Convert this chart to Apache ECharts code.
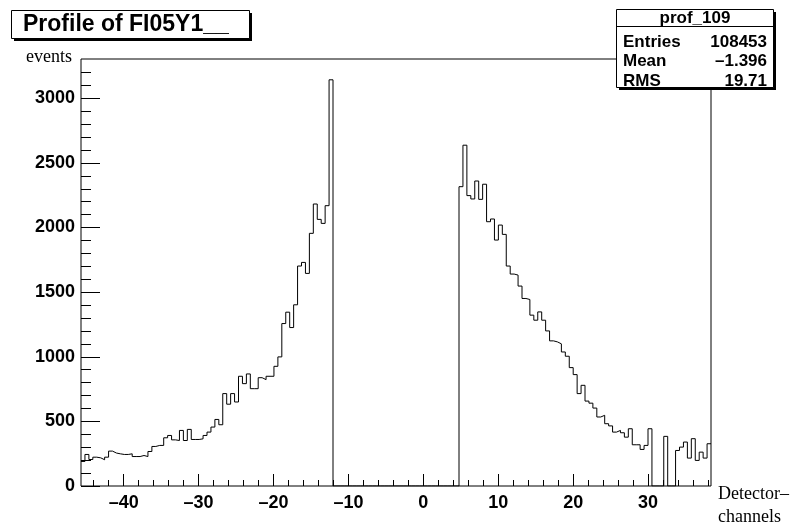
<!DOCTYPE html>
<html>
<head>
<meta charset="utf-8">
<script src="https://cdn.jsdelivr.net/npm/echarts@6/dist/echarts.min.js"></script>
<style>
  html, body { margin: 0; padding: 0; background: #fff; }
  #chart { width: 790px; height: 524px; }
</style>
</head>
<body>
<div id="chart"></div>
<script>
// Histogram binning along the detector channel axis
const xMin = -45.7;
const xMax = 38.4;
const nBins = 160;

// Bin contents (events per bin), left to right
const countsLeft = [
  190, 244, 205, 223, 218, 203, 223, 270, 255, 249,
  244, 244, 249, 228, 228, 236, 228, 267, 306, 314,
  314, 373, 391, 357, 352, 430, 352, 438, 360, 360,
  365, 391, 417, 456, 515, 474, 715, 633, 715, 650,
  849, 792, 867, 753, 753, 838, 823, 849, 849, 926,
  999, 1257, 1345, 1226, 1402, 1702, 1730, 1645, 1955, 2182,
  2063, 2032, 2169, 3143
];
const countsGap = [
  0, 0, 0, 0, 0, 0, 0, 0, 0, 0,
  0, 0, 0, 0, 0, 0, 0, 0, 0, 0,
  0, 0, 0, 0, 0, 0, 0, 0, 0, 0,
  0, 0
];
const countsRight = [
  2316, 2637, 2247, 2221, 2360, 2218, 2335, 2045, 2066, 1903,
  2019, 1947, 1702, 1640, 1632, 1547, 1451, 1443, 1322, 1283,
  1347, 1283, 1200, 1123, 1115, 1100, 1037, 1004, 916, 862,
  715, 779, 657, 641, 603, 534, 547, 482, 465, 417,
  430, 412, 378, 443, 319, 319, 283, 314, 443, 0,
  0, 0, 384, 0, 0, 275, 301, 340, 216, 366,
  198, 262, 216, 327
];

// Axis ticks
const xTickLabels = [-40, -30, -20, -10, 0, 10, 20, 30];
const xMinorTicks = [-44, -42, -38, -36, -34, -32, -28, -26, -24, -22, -18, -16, -14, -12,
  -8, -6, -4, -2, 2, 4, 6, 8, 12, 14, 16, 18, 22, 24, 26, 28, 32, 34, 36, 38];
const yMax = 3304;
const yTickLabels = [0, 500, 1000, 1500, 2000, 2500, 3000];
const yMinorTicks = [100, 200, 300, 400, 600, 700, 800, 900, 1100, 1200, 1300, 1400,
  1600, 1700, 1800, 1900, 2100, 2200, 2300, 2400, 2600, 2700, 2800, 2900, 3100, 3200];

// Texts
const histTitle = 'Profile of FI05Y1__';
const statsName = 'prof_109';
const statsRows = [['Entries', '108453'], ['Mean', '\u20131.396'], ['RMS', '19.71']];
const yTitle = 'events';
const xTitleLines = ['Detector\u2013', 'channels'];

// Build the outline of the histogram as a stepped line through bin edges
const counts = countsLeft.concat(countsGap, countsRight);
const binWidth = (xMax - xMin) / nBins;
const outline = [];
counts.forEach(function (v, i) {
  const lo = xMin + i * binWidth;
  const hi = xMin + (i + 1) * binWidth;
  outline.push([lo, v], [hi, v]);
});

const sans = '"Liberation Sans", Arial, Helvetica, sans-serif';
const serif = '"Liberation Serif", "Times New Roman", serif';
const tickFont = { fontFamily: sans, fontWeight: 'bold', fontSize: 18, color: '#000' };
const dash = function (v) { return String(v).replace('-', '\u2013'); };

const chart = echarts.init(document.getElementById('chart'), null, { renderer: 'canvas' });

const statsLeft = 616.5, statsTop = 9.5, statsW = 157, statsH = 78;
const titleLeft = 11.5, titleTop = 10.5, titleW = 238, titleH = 28;

const graphics = [
  // title box with drop shadow
  { type: 'rect', z: 100, shape: { x: titleLeft + 2.5, y: titleTop + 2.5, width: titleW, height: titleH },
    style: { fill: '#000' } },
  { type: 'rect', z: 101, shape: { x: titleLeft, y: titleTop, width: titleW, height: titleH },
    style: { fill: '#fff', stroke: '#000', lineWidth: 1 } },
  { type: 'text', z: 102, x: 23, y: 25,
    style: { text: histTitle, font: 'bold 23px ' + sans, fill: '#000', align: 'left', verticalAlign: 'middle' } },
  // statistics box with drop shadow
  { type: 'rect', z: 100, shape: { x: statsLeft + 2.5, y: statsTop + 2.5, width: statsW, height: statsH },
    style: { fill: '#000' } },
  { type: 'rect', z: 101, shape: { x: statsLeft, y: statsTop, width: statsW, height: statsH },
    style: { fill: '#fff', stroke: '#000', lineWidth: 1 } },
  { type: 'line', z: 102, shape: { x1: statsLeft, y1: 26.5, x2: statsLeft + statsW, y2: 26.5 },
    style: { stroke: '#000', lineWidth: 1 } },
  { type: 'text', z: 102, x: 695, y: 18,
    style: { text: statsName, font: 'bold 17px ' + sans, fill: '#000', align: 'center', verticalAlign: 'middle' } },
  // axis titles
  { type: 'text', z: 102, x: 26, y: 57,
    style: { text: yTitle, font: '18px ' + serif, fill: '#000', align: 'left', verticalAlign: 'middle' } },
  { type: 'text', z: 102, x: 718, y: 494,
    style: { text: xTitleLines[0], font: '18px ' + serif, fill: '#000', align: 'left', verticalAlign: 'middle' } },
  { type: 'text', z: 102, x: 718, y: 517,
    style: { text: xTitleLines[1], font: '18px ' + serif, fill: '#000', align: 'left', verticalAlign: 'middle' } }
];
statsRows.forEach(function (row, k) {
  const yc = 42 + k * 19.5;
  graphics.push(
    { type: 'text', z: 102, x: 623, y: yc,
      style: { text: row[0], font: 'bold 17px ' + sans, fill: '#000', align: 'left', verticalAlign: 'middle' } },
    { type: 'text', z: 102, x: 767, y: yc,
      style: { text: row[1], font: 'bold 17px ' + sans, fill: '#000', align: 'right', verticalAlign: 'middle' } }
  );
});

chart.setOption({
  animation: false,
  backgroundColor: '#fff',
  grid: { left: 81, top: 59, right: 79, bottom: 38, show: true, borderColor: '#000', borderWidth: 1,
    backgroundColor: 'transparent' },
  xAxis: [
    { type: 'value', min: xMin, max: xMax, position: 'bottom',
      axisLine: { show: false, onZero: false }, splitLine: { show: false },
      axisTick: { show: true, inside: true, length: 12, customValues: xTickLabels, lineStyle: { color: '#000', width: 1 } },
      axisLabel: Object.assign({ show: true, customValues: xTickLabels, margin: 8, formatter: dash }, tickFont) },
    { type: 'value', min: xMin, max: xMax, position: 'bottom', offset: 0,
      axisLine: { show: false, onZero: false }, splitLine: { show: false },
      axisTick: { show: true, inside: true, length: 6, customValues: xMinorTicks, lineStyle: { color: '#000', width: 1 } },
      axisLabel: { show: false } }
  ],
  yAxis: [
    { type: 'value', min: 0, max: yMax, position: 'left',
      axisLine: { show: false, onZero: false }, splitLine: { show: false },
      axisTick: { show: true, inside: true, length: 19, customValues: yTickLabels, lineStyle: { color: '#000', width: 1 } },
      axisLabel: Object.assign({ show: true, customValues: yTickLabels, margin: 6,
        formatter: function (v) { return String(v); } }, tickFont) },
    { type: 'value', min: 0, max: yMax, position: 'left', offset: 0,
      axisLine: { show: false, onZero: false }, splitLine: { show: false },
      axisTick: { show: true, inside: true, length: 10, customValues: yMinorTicks, lineStyle: { color: '#000', width: 1 } },
      axisLabel: { show: false } }
  ],
  series: [{
    type: 'line', xAxisIndex: 0, yAxisIndex: 0, data: outline,
    symbol: 'none', showSymbol: false, silent: true,
    lineStyle: { color: '#000', width: 1 }
  }],
  graphic: graphics
});
</script>
</body>
</html>
